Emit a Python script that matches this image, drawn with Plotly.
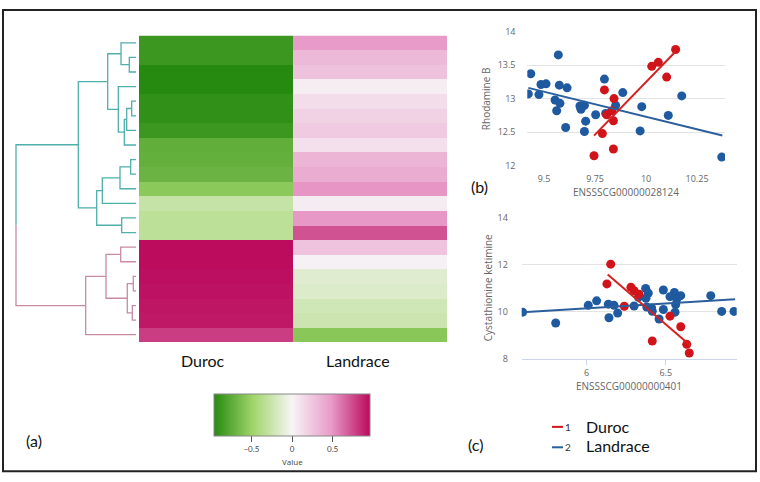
"""Heatmap with dendrogram plus two breed-wise scatter panels."""

import plotly.graph_objects as go

W, H = 760, 482

# ---- heatmap values, rows top to bottom (dendrogram leaf order) ----
duroc = [-0.88, -0.88, -0.96, -0.96, -0.92, -0.92, -0.88, -0.73, -0.72, -0.69, -0.56,
         -0.27, -0.32, -0.32, 0.95, 0.95, 0.94, 0.93, 0.92, 0.91, 0.79]
landrace = [0.48, 0.32, 0.28, 0.04, 0.13, 0.19, 0.23, 0.11, 0.34, 0.39, 0.50,
            0.05, 0.49, 0.72, 0.27, 0.02, -0.13, -0.15, -0.22, -0.24, -0.57]
columns = ["Duroc", "Landrace"]

# ---- row dendrogram as a linkage table (leaves 0..20, merged nodes 21..) ----
link_left = [1, 0, 4, 23, 24, 3, 22, 8, 28, 29, 12, 30, 27, 14, 16, 18, 35, 34, 38, 33]
link_right = [2, 21, 5, 6, 7, 25, 26, 9, 10, 11, 13, 31, 32, 15, 17, 19, 36, 37, 20, 39]
link_height = [6.7, 15, 4.3, 9.3, 11.7, 17.7, 28.3, 5.3, 16, 33.7, 14.3, 39.3, 57.7,
               15.3, 2.7, 3.7, 8.7, 30, 50.3, 120]

# ---- (b) ENSSSCG00000028124 vs Rhodamine B ----
b_blue_x = [9.423, 9.435, 9.475, 9.485, 9.51, 9.554, 9.57, 9.575, 9.562, 9.578, 9.613,
            9.606, 9.676, 9.681, 9.698, 9.704, 9.698, 9.753, 9.796, 9.802, 9.851, 9.886,
            9.979, 9.971, 10.109, 10.175, 10.371]
b_blue_y = [13.07, 13.37, 13.06, 13.21, 13.22, 12.98, 13.65, 13.2, 12.82, 12.93, 13.16,
            12.57, 12.89, 12.84, 12.9, 12.665, 12.51, 12.76, 13.29, 12.78, 12.9, 13.09,
            12.88, 12.52, 12.75, 13.04, 12.13]
b_red_x = [9.745, 9.786, 9.796, 9.807, 9.832, 9.843, 9.840, 9.840, 10.028, 10.06, 10.101, 10.145]
b_red_y = [12.15, 12.48, 13.13, 12.76, 12.82, 13.0, 12.67, 12.25, 13.48, 13.54, 13.32, 13.73]
b_blue_fit_x = [9.423, 10.374]
b_blue_fit_y = [13.16, 12.45]
b_red_fit_x = [9.745, 10.145]
b_red_fit_y = [12.45, 13.70]

# ---- (c) ENSSSCG00000000401 vs Cystathionine ketimine ----
c_blue_x = [5.595, 5.804, 6.01, 6.063, 6.137, 6.173, 6.141, 6.196, 6.3, 6.327, 6.373,
            6.39, 6.375, 6.38, 6.411, 6.415, 6.458, 6.485, 6.485, 6.527, 6.555, 6.57,
            6.595, 6.563, 6.559, 6.785, 6.854, 6.932]
c_blue_y = [9.99, 9.53, 10.28, 10.47, 10.33, 10.28, 9.75, 9.95, 10.25, 10.62, 11.0,
            10.8, 10.58, 10.21, 10.17, 10.03, 9.7, 10.93, 10.1, 10.65, 10.83, 10.55,
            10.69, 10.31, 9.99, 10.69, 10.02, 10.02]
c_red_x = [6.152, 6.128, 6.238, 6.28, 6.3, 6.331, 6.415, 6.527, 6.595, 6.633, 6.649]
c_red_y = [12.03, 11.19, 10.24, 11.05, 10.9, 10.75, 8.76, 9.82, 9.37, 8.62, 8.25]
c_blue_fit_x = [5.595, 6.939]
c_blue_fit_y = [9.99, 10.54]
c_red_fit_x = [6.133, 6.654]
c_red_fit_y = [11.59, 8.58]

GREEN_PINK = [
    [0.0, '#278A10'],
    [0.25, '#A0D56A'],
    [0.5, '#F7F5F6'],
    [0.75, '#E89BC9'],
    [1.0, '#BA095C'],
]
BLUE = '#1F5AA0'
RED = '#D0141A'
TEAL = '#4FAFAA'
ROSE = '#C98AA3'
N_TOP = 14  # leaves in the green (teal) cluster


def px_x(x):
    return x / W


def px_y(y):
    return 1 - y / H


def dendro_paths(left, right, height, n_leaves):
    """Return (xs, ys) polylines for the teal and rose parts of the tree."""
    pos = {i: (float(i), 0.0) for i in range(n_leaves)}
    leaves = {i: {i} for i in range(n_leaves)}
    teal = ([], [])
    rose = ([], [])
    for k, (a, b, h) in enumerate(zip(left, right, height)):
        ya, ha = pos[a]
        yb, hb = pos[b]
        node = n_leaves + k
        leaves[node] = leaves[a] | leaves[b]
        top = all(i < N_TOP for i in leaves[node])
        bottom = all(i >= N_TOP for i in leaves[node])
        if top or bottom:
            tgt = teal if top else rose
            tgt[0].extend([ha, h, h, hb, None])
            tgt[1].extend([ya, ya, yb, yb, None])
        else:
            mid = (ya + yb) / 2
            teal[0].extend([ha, h, h, None])
            teal[1].extend([ya, ya, mid, None])
            rose[0].extend([h, h, hb, None])
            rose[1].extend([mid, yb, yb, None])
        pos[node] = ((ya + yb) / 2, h)
    return teal, rose


fig = go.Figure()

teal, rose = dendro_paths(link_left, link_right, link_height, len(duroc))
for (xs, ys), col in ((teal, TEAL), (rose, ROSE)):
    fig.add_trace(go.Scatter(
        x=xs, y=ys, mode='lines', xaxis='x', yaxis='y',
        line=dict(color=col, width=1.3), hoverinfo='skip', showlegend=False,
    ))

fig.add_trace(go.Heatmap(
    z=[[d, l] for d, l in zip(duroc, landrace)],
    x=columns,
    y=list(range(len(duroc))),
    xaxis='x2', yaxis='y',
    colorscale=GREEN_PINK, zmin=-0.96, zmax=0.96,
    colorbar=dict(
        orientation='h',
        lenmode='pixels', len=156, thickness=42,
        x=px_x(292), xanchor='center',
        y=px_y(398), yanchor='top',
        xpad=0, ypad=0,
        outlinewidth=1, outlinecolor='#888',
        tickvals=[-0.5, 0, 0.5],
        ticks='outside', ticklen=6, tickcolor='#555',
        tickfont=dict(size=8, color='#444'),
    ),
))

# scatter panels
for xs, ys, col, ax in (
    (b_blue_x, b_blue_y, BLUE, '3'), (b_red_x, b_red_y, RED, '3'),
    (c_blue_x, c_blue_y, BLUE, '4'), (c_red_x, c_red_y, RED, '4'),
):
    fig.add_trace(go.Scatter(
        x=xs, y=ys, mode='markers', xaxis='x' + ax, yaxis='y' + ax,
        marker=dict(color=col, size=9), showlegend=False,
    ))

for xs, ys, col, ax in (
    (b_blue_fit_x, b_blue_fit_y, '#2A5E9C', '3'), (b_red_fit_x, b_red_fit_y, '#D42121', '3'),
    (c_blue_fit_x, c_blue_fit_y, '#2A5E9C', '4'), (c_red_fit_x, c_red_fit_y, '#D42121', '4'),
):
    fig.add_trace(go.Scatter(
        x=xs, y=ys, mode='lines', xaxis='x' + ax, yaxis='y' + ax,
        line=dict(color=col, width=2), showlegend=False,
    ))

hidden = dict(visible=False, showgrid=False, zeroline=False, fixedrange=True)
tick_font = dict(size=9, color='#666', family='Open Sans, sans-serif')

fig.update_layout(
    width=W, height=H,
    margin=dict(l=0, r=0, t=0, b=0),
    paper_bgcolor='white', plot_bgcolor='white',
    font=dict(family='Lato, sans-serif', color='#111'),
    showlegend=False,
    xaxis=dict(hidden, domain=[px_x(10), px_x(136)], range=[126, 0], anchor='y'),
    yaxis=dict(hidden, domain=[px_y(344.3), px_y(29.3)], range=[20.5, -0.5]),
    xaxis2=dict(hidden, domain=[px_x(139), px_x(447)], anchor='y'),
    xaxis3=dict(
        domain=[px_x(527.3), px_x(725)], range=[9.418, 10.387], anchor='y3',
        tickvals=[9.5, 9.75, 10, 10.25], ticktext=['9.5', '9.75', '10', '10.25'],
        ticks='outside', ticklen=4, tickcolor='rgba(0,0,0,0)',
        showgrid=False, zeroline=False, tickfont=tick_font,
    ),
    yaxis3=dict(
        domain=[px_y(163.3), px_y(25)], range=[11.999, 14.001], anchor='x3',
        tickvals=[12, 12.5, 13, 13.5, 14],
        ticks='outside', ticklen=9, tickcolor='rgba(0,0,0,0)',
        showgrid=True, gridcolor='#E3E3E3', zeroline=False, tickfont=tick_font,
    ),
    xaxis4=dict(
        domain=[px_x(521.7), px_x(736.7)], range=[5.589, 6.949], anchor='y4',
        tickvals=[6, 6.5], ticktext=['6', '6.5'],
        ticks='outside', ticklen=5, tickcolor='#CCD6EB',
        showline=True, linecolor='#CCD6EB',
        showgrid=False, zeroline=False, tickfont=tick_font,
    ),
    yaxis4=dict(
        domain=[px_y(361.7), px_y(216.7)], range=[7.999, 14.001], anchor='x4',
        tickvals=[8, 10, 12, 14],
        ticks='outside', ticklen=11, tickcolor='rgba(0,0,0,0)',
        showgrid=True, gridcolor='#E3E3E3', zeroline=False, tickfont=tick_font,
    ),
)

big = dict(size=16, color='#111', family='Lato, sans-serif')
small = dict(size=10, color='#666', family='Open Sans, sans-serif')
notes = [
    ('Duroc', 203, 363, big, 'center', 0),
    ('Landrace', 357.5, 363, big, 'center', 0),
    ('(a)', 34, 446, big, 'center', 0),
    ('(b)', 479, 184, big, 'center', 0),
    ('(c)', 476, 450, big, 'center', 0),
    ('Value', 292, 467, dict(size=8, color='#444', family='Open Sans, sans-serif'), 'center', 0),
    ('Rhodamine B', 486.7, 94, small, 'center', -90),
    ('Cystathionine ketimine', 488, 289, small, 'center', -90),
    ('ENSSSCG00000028124', 626, 190, small, 'center', 0),
    ('ENSSSCG00000000401', 629, 389, small, 'center', 0),
    ('1', 568, 432, dict(size=10, color='#333'), 'center', 0),
    ('2', 568, 452.5, dict(size=10, color='#333'), 'center', 0),
    ('Duroc', 584, 431, big, 'left', 0),
    ('Landrace', 584, 451, big, 'left', 0),
]
for text, x, y, f, xa, ang in notes:
    fig.add_annotation(
        text=text, xref='paper', yref='paper', x=px_x(x), y=px_y(y),
        xanchor=xa, yanchor='middle', showarrow=False, font=f, textangle=ang,
    )

# legend swatches and outer frame
fig.add_shape(type='line', xref='paper', yref='paper',
              x0=px_x(552), x1=px_x(563), y0=px_y(431.5), y1=px_y(431.5),
              line=dict(color=RED, width=2))
fig.add_shape(type='line', xref='paper', yref='paper',
              x0=px_x(552), x1=px_x(563), y0=px_y(452.5), y1=px_y(452.5),
              line=dict(color='#2A5E9C', width=2))
fig.add_shape(type='rect', xref='paper', yref='paper',
              x0=px_x(3), x1=px_x(756), y0=px_y(477), y1=px_y(3),
              line=dict(color='#222', width=2))

# page body margin would push the figure off the 760x482 window
fig.write_html(
    "out.html",
    config={'displayModeBar': False},
    post_script="document.body.style.margin='0';",
)
